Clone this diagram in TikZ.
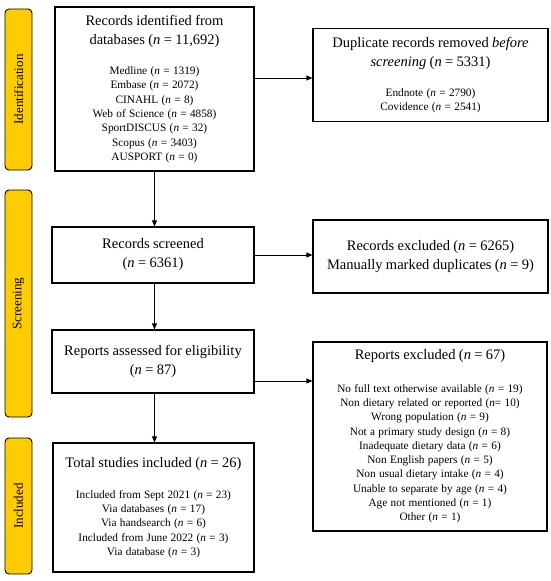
\documentclass[tikz,border=0pt]{standalone}
\usepackage{fontspec}
\setmainfont{Liberation Serif}
\usetikzlibrary{arrows.meta}
\definecolor{bargold}{RGB}{255,204,0}
\newcommand{\ttl}{\fontsize{14.5}{19}\selectfont}
\newcommand{\sbt}{\fontsize{11.3}{14.3}\selectfont}
\newcommand{\nn}{\textit{n}}
\begin{document}
\begin{tikzpicture}[x=1pt,y=-1pt,
  box/.style={draw, line width=1.2pt, inner sep=0pt, align=center},
  bar/.style={draw, line width=0.9pt, fill=bargold, rounded corners=4pt, inner sep=0pt, font=\fontsize{13}{14}\selectfont},
  arr/.style={line width=0.7pt, -{Triangle[length=6pt,width=5pt]}}]
\useasboundingbox (0,0) rectangle (550,581);
% side bars
\node[bar, rotate=90, minimum width=161pt, minimum height=27pt] (bid) at (18.5,89.5) {Identification};
\node[bar, rotate=90, minimum width=227pt, minimum height=27pt] (bsc) at (18.5,303.5) {Screening};
\node[bar, rotate=90, minimum width=136pt, minimum height=27pt] (bin) at (18.5,506) {Included};
% boxes
\node[box, minimum width=199pt, minimum height=164pt, text width=195pt] (id) at (154.5,89)
 {{\ttl Records identified from\\ databases (\nn{} = 11,692)\par}\vspace{16pt}
  {\sbt Medline (\nn{} = 1319)\\ Embase (\nn{} = 2072)\\ CINAHL (\nn{} = 8)\\ Web of Science (\nn{} = 4858)\\ SportDISCUS (\nn{} = 32)\\ Scopus (\nn{} = 3403)\\ AUSPORT (\nn{} = 0)\par}};
\node[box, minimum width=235pt, minimum height=93pt, text width=230pt] (dup) at (430.5,75)
 {{\ttl Duplicate records removed \textit{before}\\ \textit{screening} (\nn{} = 5331)\par}\vspace{16pt}
  {\sbt Endnote (\nn{} = 2790)\\ Covidence (\nn{} = 2541)\par}};
\node[box, minimum width=202pt, minimum height=56pt, text width=198pt] (scr) at (153,255)
 {{\ttl Records screened\\ (\nn{} = 6361)\par}};
\node[box, minimum width=235pt, minimum height=73pt, text width=230pt] (exc) at (430.5,256.5)
 {{\ttl Records excluded (\nn{} = 6265)\\ Manually marked duplicates (\nn{} = 9)\par}};
\node[box, minimum width=202pt, minimum height=63pt, text width=198pt] (ass) at (153,361.5)
 {{\ttl Reports assessed for eligibility\\ (\nn{} = 87)\par}};
\node[box, minimum width=234pt, minimum height=189pt, text width=230pt] (rep) at (430,436.5)
 {{\ttl Reports excluded (\nn{} = 67)\par}\vspace{18pt}
  {\sbt No full text otherwise available (\nn{} = 19)\\ Non dietary related or reported (\nn{}= 10)\\ Wrong population (\nn{} = 9)\\ Not a primary study design (\nn{} = 8)\\ Inadequate dietary data (\nn{} = 6)\\ Non English papers (\nn{} = 5)\\ Non usual dietary intake (\nn{} = 4)\\ Unable to separate by age (\nn{} = 4)\\ Age not mentioned (\nn{} = 1)\\ Other (\nn{} = 1)\par}};
\node[box, minimum width=201pt, minimum height=129pt, text width=197pt] (tot) at (153.5,507.5)
 {{\ttl Total studies included (\nn{} = 26)\par}\vspace{17pt}
  {\sbt Included from Sept 2021 (\nn{} = 23)\\ Via databases (\nn{} = 17)\\ Via handsearch (\nn{} = 6)\\ Included from June 2022 (\nn{} = 3)\\ Via database (\nn{} = 3)\par}};
% connectors
\coordinate (r1) at (0,78);
\coordinate (r3) at (0,381);
\draw[arr] (id.east |- r1) -- (dup.west |- r1);
\draw[arr] (scr.east) -- (scr.east -| exc.west);
\draw[arr] (ass.east |- r3) -- (rep.west |- r3);
\draw[arr] (id.south) -- (id.south |- scr.north);
\draw[arr] (scr.south -| id.south) -- (id.south |- ass.north);
\draw[arr] (ass.south -| id.south) -- (id.south |- tot.north);
\end{tikzpicture}
\end{document}
